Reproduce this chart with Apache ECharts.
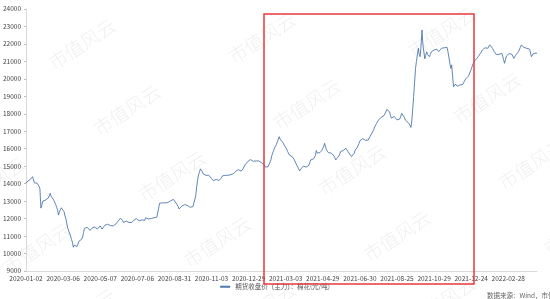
<!DOCTYPE html>
<html>
<head>
<meta charset="utf-8">
<script src="https://cdn.jsdelivr.net/npm/echarts@6/dist/echarts.min.js"></script>
<style>html,body{margin:0;padding:0;background:#fff;}#c{width:550px;height:299px;}</style>
</head>
<body>
<div id="c"></div>
<script>
// x-axis tick labels (one every 40 trading days)
var tickLabels = ['2020-01-02','2020-03-06','2020-05-07','2020-07-06','2020-08-31','2020-11-03','2020-12-29',
  '2021-03-03','2021-04-29','2021-06-30','2021-08-25','2021-10-29','2021-12-24','2022-02-28'];
var seriesName = '期货收盘价（主力）：棉花(元/吨)';
// daily closing prices (trading days)
var prices = [
14020,14080,14150,14120,14200,14260,14310,14400,14330,14050,
14100,13980,14020,14000,13850,13700,12600,12750,13000,13080,
13100,13060,13120,13050,13180,13300,13450,13280,13250,13320,
13050,12970,12800,12650,12500,12200,12380,12500,12620,12680,
12550,12400,12150,12000,11700,11450,11520,11400,11000,10800,
10650,10360,10480,10560,10590,10400,10500,10700,10780,10700,
10820,10950,11200,11440,11550,11480,11500,11450,11400,11320,
11350,11450,11500,11460,11520,11600,11500,11400,11480,11500,
11580,11520,11400,11450,11500,11620,11650,11600,11680,11770,
11700,11600,11550,11500,11580,11650,11620,11700,11750,11800,
11900,11950,12020,11960,11900,11780,11750,11800,11850,11900,
11850,11780,11720,11690,11780,11820,11900,11950,11980,12000,
12020,11950,11880,11900,11850,11920,11940,11960,11900,12050,
12110,12050,11980,11950,11960,12000,12030,12010,12050,12020,
12060,12080,12100,12600,12880,12820,12850,12900,12880,12850,
12900,12950,12970,12920,12950,13000,13020,13050,13080,13100,
13000,12950,12900,12880,12700,12550,12450,12600,12720,12680,
12750,12800,12900,12780,12750,12800,12700,12650,12700,12720,
12690,12720,12800,13300,13800,14200,14500,14650,14850,14940,
14700,14560,14600,14520,14480,14500,14550,14480,14440,14380,
14300,14250,14170,14220,14280,14250,14200,14230,14180,14210,
14300,14400,14450,14500,14420,14480,14500,14550,14480,14500,
14440,14520,14600,14630,14580,14650,14700,14690,14750,14800,
14830,14780,14720,14780,14850,14940,15070,15000,15150,15260,
15200,15300,15380,15450,15350,15280,15220,15260,15300,15340,
15360,15300,15250,15280,15200,15150,15100,15070,14950,14880,
14920,14970,14900,15070,15350,15600,15750,15900,16050,16100,
16250,16400,16500,16690,16550,16600,16450,16350,16250,16150,
16050,15980,15850,15750,15640,15700,15600,15550,15500,15400,
15350,15170,15050,14950,14850,14730,14800,14880,14950,15000,
15070,15000,14950,14900,14920,15050,15200,15360,15300,15380,
15420,15450,15600,15900,15750,15640,15700,15780,15830,15900,
16030,16150,16310,16100,15930,15850,15780,15740,15800,15750,
15700,15720,15600,15480,15360,15420,15500,15580,15640,15830,
15880,15930,15900,15950,16000,16020,15950,15850,15740,15700,
15600,15550,15500,15600,15750,15930,15980,16050,16150,16300,
16450,16560,16500,16580,16600,16550,16480,16420,16400,16500,
16600,16700,16800,16900,16970,17100,17250,17360,17450,17550,
17640,17700,17750,17800,17830,17880,17900,17930,18100,18250,
18310,18200,18120,17900,17750,17700,17800,17850,17930,17800,
17650,17550,17550,17700,17850,18030,18120,18000,17800,17640,
17600,17550,17500,17450,17350,17220,17600,18300,19000,19800,
20600,21000,21370,21750,21400,21270,21940,22800,21940,21840,
21150,21350,21550,21400,21300,21270,21400,21550,21650,21500,
21650,21600,21550,21700,21750,21560,21550,21650,21750,21840,
21840,21780,21700,21750,21800,21550,21460,20900,20600,20800,
20150,19550,19650,19700,19620,19580,19600,19550,19650,19700,
19740,19680,19800,19900,19990,20050,20100,20150,20250,20400,
20550,20700,20850,20980,21080,21050,21170,21200,21300,21350,
21460,21550,21650,21750,21700,21780,21800,21840,21750,21840,
21950,22040,21840,21750,21650,21550,21460,21400,21420,21370,
21400,21450,21420,21460,21300,21100,20890,21100,21300,21250,
21350,21450,21500,21550,21400,21300,21170,21250,21350,21400,
21460,21550,21650,21800,21940,21900,21850,21800,21750,21700,
21750,21780,21750,21700,21600,21270,21350,21450,21550,21500,
21480,21460
];
var categories = prices.map(function(_, i){ return i; });

// watermark tiles (decoration)
var marks = [];
for (var r = -3; r <= 4; r++) {
  for (var c = -2; c <= 3; c++) {
    var cx = 262 + c*180 + r*45;
    var cy = 38 - c*6 + r*66;
    if (cx < -60 || cx > 620 || cy < -40 || cy > 340) continue;
    marks.push({
      type: 'text', x: cx, y: cy, rotation: 0.58, silent: true, z: 0,
      style: { text: '市值风云', fill: 'rgba(0,0,0,0.065)', font: '300 19px "Noto Sans CJK SC"',
               textAlign: 'center', textVerticalAlign: 'middle' }
    });
  }
}
marks.push({
  type: 'rect', shape: { x: 264, y: 14, width: 210, height: 270 }, z: 100, silent: true,
  style: { fill: 'none', stroke: '#e8393f', lineWidth: 1.5 }
});
marks.push({
  type: 'text', x: 487, y: 292, z: 100, silent: true,
  style: { text: '数据来源：Wind，市值风云', fill: '#666', font: '6.5px "Noto Sans CJK SC"' }
});

var chart = echarts.init(document.getElementById('c'), null, { renderer: 'canvas' });
chart.setOption({
  animation: false,
  backgroundColor: '#fff',
  grid: { left: 23, right: 13, top: 9, bottom: 28 },
  legend: {
    bottom: 4, left: 'center', itemWidth: 10, itemHeight: 2, itemGap: 4,
    icon: 'rect',
    textStyle: { fontSize: 6.5, color: '#555', fontFamily: 'Noto Sans CJK SC' },
    data: [seriesName]
  },
  xAxis: {
    type: 'category', data: categories, boundaryGap: false,
    axisLine: { lineStyle: { color: '#d9d9d9' } },
    axisTick: { show: false },
    axisLabel: {
      interval: 39, margin: 4, fontSize: 6.5, color: '#444', fontFamily: 'Noto Sans CJK SC',
      formatter: function(v, i){ return i % 40 === 0 ? tickLabels[i/40] : ''; }
    },
    splitLine: { show: false }
  },
  yAxis: {
    type: 'value', min: 9000, max: 24000, interval: 1000,
    axisLine: { show: true, lineStyle: { color: '#d9d9d9' } },
    axisTick: { show: true, length: 2, lineStyle: { color: '#bbb' } },
    axisLabel: { margin: 5, fontSize: 6.5, color: '#444', fontFamily: 'Noto Sans CJK SC',
      formatter: function(v){ return String(v); } },
    splitLine: { show: false }
  },
  series: [{
    name: seriesName, type: 'line', data: prices, showSymbol: false, symbol: 'none',
    lineStyle: { color: '#4f78ad', width: 0.9 }, itemStyle: { color: '#4f78ad' }, z: 5
  }],
  graphic: marks
});
</script>
</body>
</html>
